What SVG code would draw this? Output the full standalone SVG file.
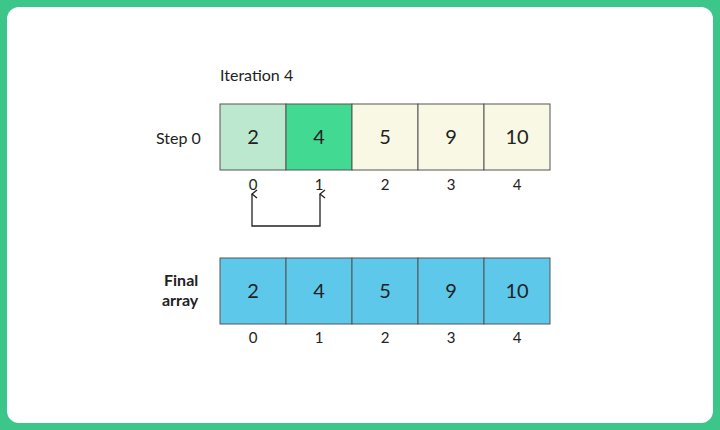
<svg xmlns="http://www.w3.org/2000/svg" width="720" height="430" viewBox="0 0 720 430">
<style>
text{font-family:"Lato","Liberation Sans",sans-serif;fill:#222}
.v{font-size:20px;text-anchor:middle}
.i{font-size:15px;text-anchor:middle}
.l{font-size:16px}
rect.c{stroke:#555;stroke-width:1}
.y{fill:#f8f8e4}
.b{fill:#5ec8eb}
</style>
<defs><marker id="a" viewBox="0 0 10 10" refX="5" refY="1" markerWidth="10" markerHeight="10" orient="auto-start-reverse" markerUnits="userSpaceOnUse"><path d="M1 6 L5 1 L9 6" fill="none" stroke="#222" stroke-width="1.3"/></marker></defs>
<rect x="0" y="0" width="720" height="430" fill="#3cc68a"/>
<rect x="7" y="7" width="706" height="416" rx="12" fill="#fff"/>
<text class="l" x="220" y="81">Iteration 4</text>
<text class="l" x="156" y="144">Step 0</text>
<g id="top">
<rect class="c" x="220" y="104" width="66" height="66" fill="#bde8d0"/>
<rect class="c" x="286" y="104" width="66" height="66" fill="#42d993"/>
<rect class="c y" x="352" y="104" width="66" height="66"/>
<rect class="c y" x="418" y="104" width="66" height="66"/>
<rect class="c y" x="484" y="104" width="66" height="66"/>
<text class="v" x="253" y="144">2</text><text class="v" x="319" y="144">4</text><text class="v" x="385" y="144">5</text><text class="v" x="451" y="144">9</text><text class="v" x="517" y="144">10</text>
<text class="i" x="253" y="190">0</text><text class="i" x="319" y="190">1</text><text class="i" x="385" y="190">2</text><text class="i" x="451" y="190">3</text><text class="i" x="517" y="190">4</text>
</g>
<g id="connectors"><path d="M252 194 V226 H320 V194" fill="none" stroke="#222" stroke-width="1.3" marker-start="url(#a)" marker-end="url(#a)"/></g>
<text class="l" x="164" y="286" font-weight="bold">Final</text>
<text class="l" x="162" y="306" font-weight="bold">array</text>
<g id="final">
<rect class="c b" x="220" y="258" width="66" height="66"/>
<rect class="c b" x="286" y="258" width="66" height="66"/>
<rect class="c b" x="352" y="258" width="66" height="66"/>
<rect class="c b" x="418" y="258" width="66" height="66"/>
<rect class="c b" x="484" y="258" width="66" height="66"/>
<text class="v" x="253" y="298">2</text><text class="v" x="319" y="298">4</text><text class="v" x="385" y="298">5</text><text class="v" x="451" y="298">9</text><text class="v" x="517" y="298">10</text>
<text class="i" x="253" y="343">0</text><text class="i" x="319" y="343">1</text><text class="i" x="385" y="343">2</text><text class="i" x="451" y="343">3</text><text class="i" x="517" y="343">4</text>
</g>
</svg>
